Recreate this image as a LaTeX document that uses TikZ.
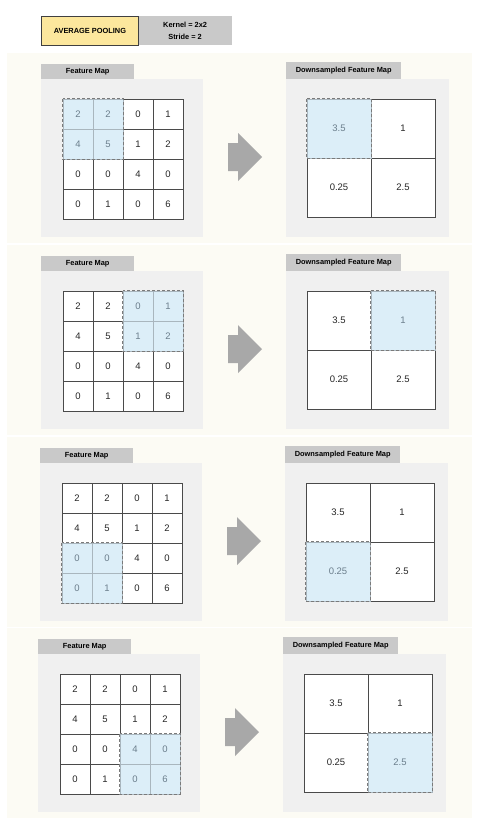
\documentclass[tikz,border=0pt]{standalone}
\usepackage{fontspec}
\setmainfont{Liberation Sans}
\definecolor{cream}{HTML}{FCFBF4}
\definecolor{panelgray}{HTML}{F0F0F0}
\definecolor{headgray}{HTML}{C9C9C9}
\definecolor{titleyellow}{HTML}{FCE79D}
\definecolor{hlblue}{HTML}{DCEEF8}
\definecolor{hlline}{HTML}{A9B6BE}
\definecolor{hltext}{HTML}{6B7E8C}
\definecolor{gridline}{HTML}{4A4A4A}
\definecolor{dashgray}{HTML}{7A7A7A}
\definecolor{arrowgray}{HTML}{A8A8A8}
\tikzset{
  panel/.style={fill=panelgray, draw=none, inner sep=0, anchor=north west},
  header/.style={fill=headgray, draw=none, inner sep=0, anchor=north west,
    font=\fontsize{7.4}{8}\selectfont\bfseries},
  numfont/.style={font=\fontsize{9.5}{10}\selectfont},
  cell/.style={draw=gridline, line width=0.7pt, fill=white, inner sep=0, numfont, text=black!85},
  hlcell/.style={draw=hlline, line width=0.5pt, fill=hlblue, inner sep=0, numfont, text=hltext},
  hlbox/.style={draw=dashgray, dash pattern=on 3pt off 2pt, line width=1pt},
  smallcell/.style={minimum width=30, minimum height=30},
  bigcell/.style={minimum width=64, minimum height=59},
}
\newcommand\poolrow[4]{%
  % #1 row index, #2 dx, #3 dy, #4 highlight index
  \pgfmathtruncatemacro\hr{floor(#4/2)}%
  \pgfmathtruncatemacro\hc{mod(#4,2)}%
  \fill[cream] (7,{53+#3}) rectangle (472,{243+#3});
  % left panel
  \node[panel, minimum width=162, minimum height=158] (LP#1) at ({41+#2},{79+#3}) {};
  \node[header, minimum width=93, minimum height=15] (LH#1) at ({41+#2},{64+#3}) {Feature Map};
  % right panel
  \node[panel, minimum width=163, minimum height=158] (RP#1) at ({286+#2},{79+#3}) {};
  \node[header, minimum width=115, minimum height=17] (RH#1) at ({286+#2},{62+#3}) {Downsampled Feature Map};
  % left grid, normal cells
  \foreach \v [count=\i from 0] in {2,2,0,1,4,5,1,2,0,0,4,0,0,1,0,6}{
    \pgfmathtruncatemacro\r{floor(\i/4)}
    \pgfmathtruncatemacro\c{mod(\i,4)}
    \pgfmathtruncatemacro\hl{and(floor(\r/2)==\hr, floor(\c/2)==\hc)}
    \ifnum\hl=0
      \node[cell, smallcell] (L#1-\r\c) at ({78+#2+30*\c},{114+#3+30*\r}) {\v};
    \fi
  }
  \foreach \v [count=\i from 0] in {2,2,0,1,4,5,1,2,0,0,4,0,0,1,0,6}{
    \pgfmathtruncatemacro\r{floor(\i/4)}
    \pgfmathtruncatemacro\c{mod(\i,4)}
    \pgfmathtruncatemacro\hl{and(floor(\r/2)==\hr, floor(\c/2)==\hc)}
    \ifnum\hl=1
      \node[hlcell, smallcell] (L#1-\r\c) at ({78+#2+30*\c},{114+#3+30*\r}) {\v};
    \fi
  }
  \pgfmathtruncatemacro\ra{2*\hr}%
  \pgfmathtruncatemacro\ca{2*\hc}%
  \pgfmathtruncatemacro\rb{2*\hr+1}%
  \pgfmathtruncatemacro\cb{2*\hc+1}%
  \draw[hlbox] (L#1-\ra\ca.north west) rectangle (L#1-\rb\cb.south east);
  % right grid
  \foreach \v [count=\i from 0] in {3.5,1,0.25,2.5}{
    \pgfmathtruncatemacro\r{floor(\i/2)}
    \pgfmathtruncatemacro\c{mod(\i,2)}
    \pgfmathtruncatemacro\hl{and(\r==\hr, \c==\hc)}
    \ifnum\hl=0
      \node[cell, bigcell] (R#1-\r\c) at ({339+#2+64*\c},{128.5+#3+59*\r}) {\v};
    \fi
  }
  \node[hlcell, bigcell] (R#1-\hr\hc) at ({339+#2+64*\hc},{128.5+#3+59*\hr}) {\pgfmathparse{{"3.5","1","0.25","2.5"}[#4]}\pgfmathresult};
  \draw[hlbox] (R#1-\hr\hc.north west) rectangle (R#1-\hr\hc.south east);
  % arrow
  \fill[arrowgray] ({228+#2},{143+#3}) -- ({238+#2},{143+#3}) -- ({238+#2},{133+#3})
    -- ({262+#2},{157+#3}) -- ({238+#2},{181+#3}) -- ({238+#2},{171+#3})
    -- ({228+#2},{171+#3}) -- cycle;
}
\begin{document}
\begin{tikzpicture}[x=1pt, y=-1pt]
  \useasboundingbox (0,0) rectangle (483,827);
  \fill[white] (0,0) rectangle (483,827);
  % title
  \node[draw=black!75, line width=0.8pt, fill=titleyellow, inner sep=0, anchor=north west,
    minimum width=97, minimum height=29, font=\fontsize{7.4}{8}\selectfont\bfseries]
    (title) at (41,16) {AVERAGE POOLING};
  \node[fill=headgray, inner sep=0, anchor=north west, minimum width=93, minimum height=29,
    font=\fontsize{7.4}{8}\selectfont\bfseries, align=center]
    (params) at (138.4,16) {Kernel = 2x2\\[4pt]Stride = 2};
  \poolrow{1}{0}{0}{0}
  \poolrow{2}{0}{192}{1}
  \poolrow{3}{-1}{384}{2}
  \poolrow{4}{-3}{575}{3}
\end{tikzpicture}
\end{document}
